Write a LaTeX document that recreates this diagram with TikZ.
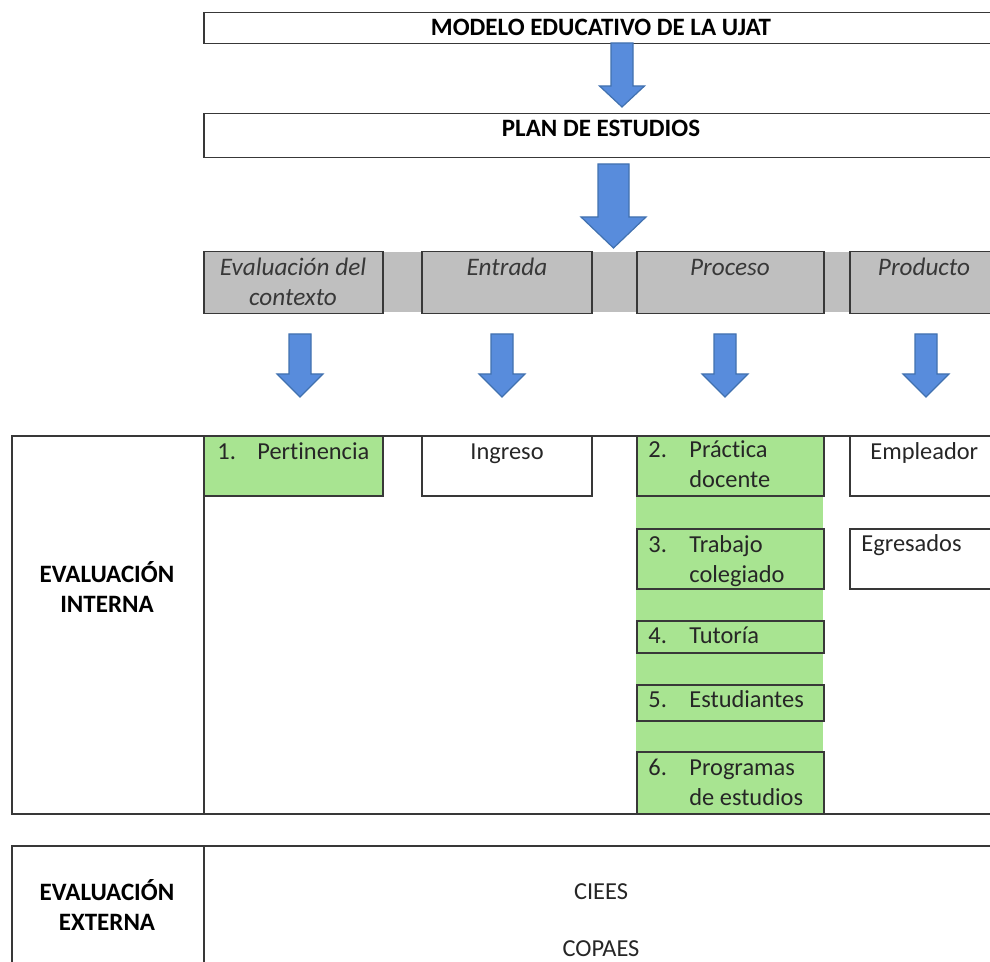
\documentclass[tikz,border=0pt]{standalone}
\usepackage{fontspec}
\setmainfont[Ligatures=NoCommon]{Carlito}
\usetikzlibrary{positioning}

\definecolor{boxline}{RGB}{56,56,56}
\definecolor{bandgray}{RGB}{191,191,191}
\definecolor{pgreen}{RGB}{168,228,145}
\definecolor{arrowblue}{RGB}{88,140,220}
\definecolor{arrowline}{RGB}{65,113,175}
\definecolor{labeltext}{RGB}{56,56,56}

% block arrow: x, top, head start, tip, shaft half, head half
\newcommand{\downblock}[6]{%
  \draw[blockarrow] ({#1-#5},#2) -- ({#1+#5},#2) -- ({#1+#5},#3) -- ({#1+#6},#3)
    -- (#1,#4) -- ({#1-#6},#3) -- ({#1-#5},#3) -- cycle;}

\begin{document}
\begin{tikzpicture}[x=0.5pt,y=-0.5pt,
  boxsize/.style 2 args={minimum width=#1*0.5pt,minimum height=#2*0.5pt},
  box/.style={draw=boxline,line width=0.75pt,anchor=north west,inner sep=0pt},
  graybox/.style={box,fill=bandgray},
  greenbox/.style={box,fill=pgreen},
  txt/.style={font=\fontsize{12.2}{15}\selectfont,inner sep=0pt,anchor=base,text=black!85},
  head/.style={txt,font=\fontsize{12.5}{15}\selectfont\bfseries,text=black},
  stage/.style={txt,font=\fontsize{12.6}{15}\selectfont\itshape,text=labeltext},
  blockarrow/.style={fill=arrowblue,draw=arrowline,line width=0.6pt,line join=miter}]

  \useasboundingbox (0,0) rectangle (990,962);
  \clip (0,0) rectangle (990,962);

  % top boxes
  \node[box,boxsize={797}{31}] (modelo) at (203,12) {};
  \node[head] (modelo-t) at (601,36) {MODELO EDUCATIVO DE LA UJAT};
  \node[box,boxsize={797}{44}] (plan) at (203,113) {};
  \node[head] (plan-t) at (601,137) {PLAN DE ESTUDIOS};

  \downblock{622}{43}{86}{107}{11}{22.5}
  \downblock{613.5}{164}{217}{248}{15.5}{32.5}

  % stages
  \node[anchor=north west,inner sep=0pt,fill=bandgray,boxsize={797}{60}] (band) at (203,252) {};
  \node[graybox,boxsize={179}{62}] (ctx) at (203,251) {};
  \node[graybox,boxsize={170}{62}] (entrada) at (421,251) {};
  \node[graybox,boxsize={187}{62}] (proceso) at (636,251) {};
  \node[graybox,boxsize={160}{62}] (producto) at (849,251) {};
  \node[stage] (ctx-t) at (293,276) {\begin{tabular}[t]{@{}c@{}}Evaluación del\\contexto\end{tabular}};
  \node[stage] (entrada-t) at (507,276) {Entrada};
  \node[stage] (proceso-t) at (730,276) {Proceso};
  \node[stage] (producto-t) at (924,276) {Producto};

  \foreach \ax in {300,502,725,926}{
    \downblock{\ax}{334}{374}{397}{11}{23}
  }

  % evaluacion interna
  \node[box,boxsize={989}{378}] (interna) at (11,435) {};
  \node[box,boxsize={192}{378}] (interna-l) at (11,435) {};
  \node[head] (interna-t) at (107,582) {\begin{tabular}[t]{@{}c@{}}EVALUACIÓN\\INTERNA\end{tabular}};

  \node[anchor=north west,inner sep=0pt,fill=pgreen,boxsize={187}{378}] (columna) at (636,435) {};
  \node[greenbox,boxsize={179}{60}] (pert) at (203,435) {};
  \node[box,boxsize={170}{60}] (ingreso) at (421,435) {};
  \node[greenbox,boxsize={187}{60}] (practica) at (636,435) {};
  \node[greenbox,boxsize={187}{60}] (trabajo) at (636,528) {};
  \node[greenbox,boxsize={187}{32}] (tutoria) at (636,620) {};
  \node[greenbox,boxsize={187}{36}] (estudiantes) at (636,684) {};
  \node[greenbox,boxsize={187}{62}] (programas) at (636,751) {};
  \node[box,boxsize={160}{60}] (empleador) at (849,435) {};
  \node[box,boxsize={160}{60}] (egresados) at (849,528) {};

  \node[txt,anchor=base west] (pert-t) at (217,459) {\begin{tabular}[t]{@{}p{20pt}@{}l@{}}1.&Pertinencia\end{tabular}};
  \node[txt] (ingreso-t) at (507,459) {Ingreso};
  \node[txt,anchor=base west] (practica-t) at (648,458) {\begin{tabular}[t]{@{}p{20.5pt}@{}l@{}}2.&Práctica\\&docente\end{tabular}};
  \node[txt,anchor=base west] (trabajo-t) at (648,552) {\begin{tabular}[t]{@{}p{20.5pt}@{}l@{}}3.&Trabajo\\&colegiado\end{tabular}};
  \node[txt,anchor=base west] (tutoria-t) at (648,643) {\begin{tabular}[t]{@{}p{20.5pt}@{}l@{}}4.&Tutoría\end{tabular}};
  \node[txt,anchor=base west] (estudiantes-t) at (648,707) {\begin{tabular}[t]{@{}p{20.5pt}@{}l@{}}5.&Estudiantes\end{tabular}};
  \node[txt,anchor=base west] (programas-t) at (648,775) {\begin{tabular}[t]{@{}p{20.5pt}@{}l@{}}6.&Programas\\&de estudios\end{tabular}};
  \node[txt,anchor=base west] (empleador-t) at (870,459) {Empleador};
  \node[txt,anchor=base west] (egresados-t) at (861,551) {Egresados};

  % evaluacion externa
  \node[box,boxsize={989}{160}] (externa) at (11,845) {};
  \node[box,boxsize={192}{160}] (externa-l) at (11,845) {};
  \node[head] (externa-t) at (107,900) {\begin{tabular}[t]{@{}c@{}}EVALUACIÓN\\EXTERNA\end{tabular}};
  \node[txt] (ciees) at (601,899) {CIEES};
  \node[txt] (copaes) at (601,956) {COPAES};
\end{tikzpicture}
\end{document}
